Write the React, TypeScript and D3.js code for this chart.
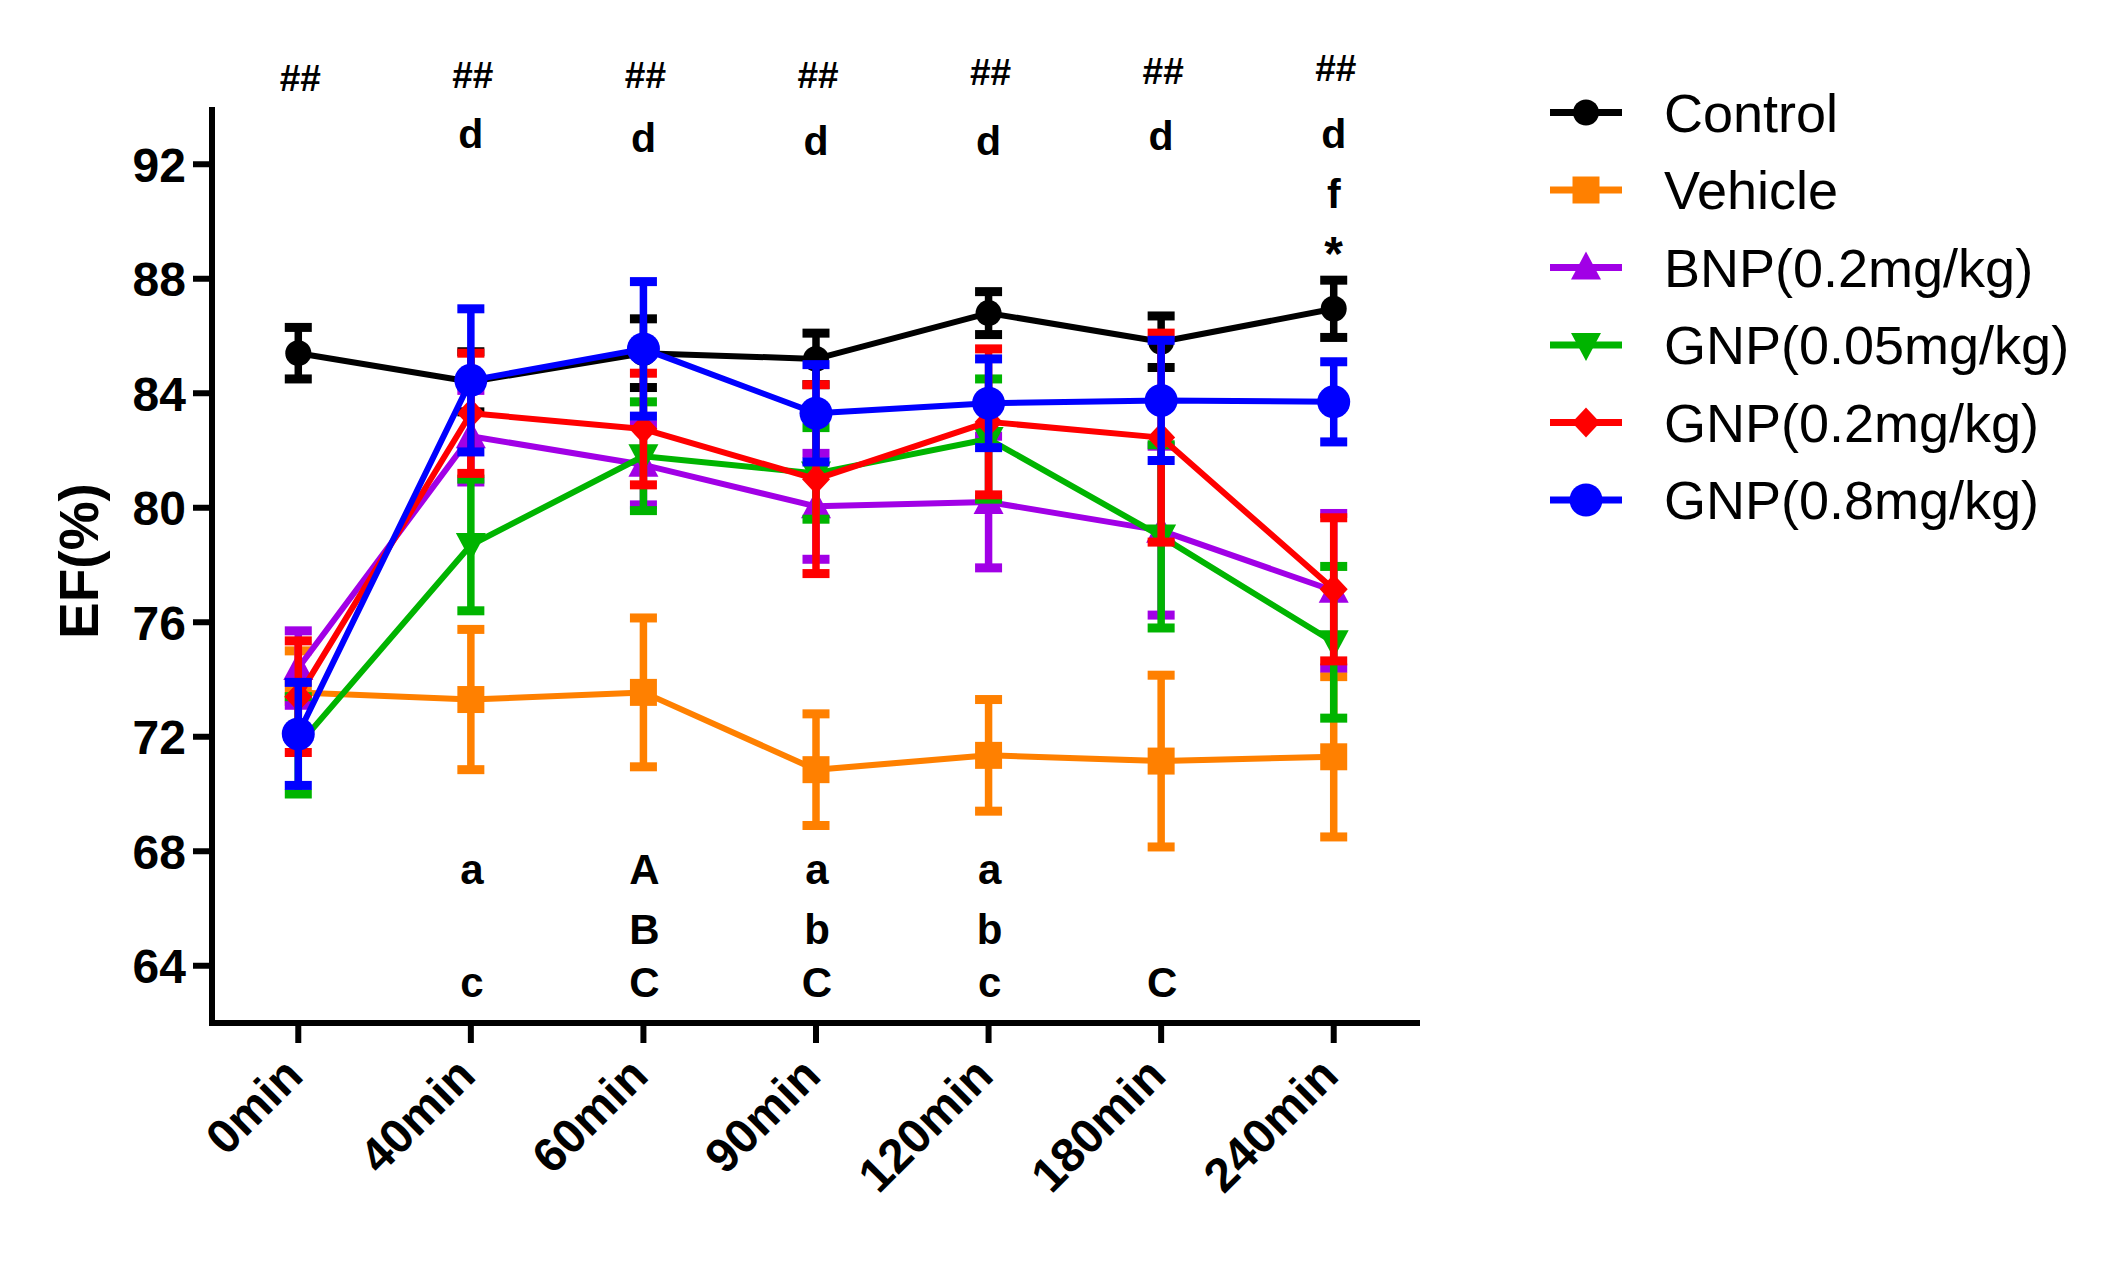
import React from "react";
import * as d3 from "d3";

const categories = ["0min", "40min", "60min", "90min", "120min", "180min", "240min"];
const yTicks = [64, 68, 72, 76, 80, 84, 88, 92];

const seriesNames = ["Control", "Vehicle", "BNP(0.2mg/kg)", "GNP(0.05mg/kg)", "GNP(0.2mg/kg)", "GNP(0.8mg/kg)"];

const controlMean = [85.4, 84.4, 85.4, 85.2, 86.8, 85.8, 86.95];
const controlErr = [0.9, 1.05, 1.2, 0.9, 0.75, 0.9, 1.0];
const vehicleMean = [73.55, 73.3, 73.55, 70.85, 71.35, 71.15, 71.3];
const vehicleErr = [1.45, 2.45, 2.6, 1.95, 1.95, 3.0, 2.8];
const bnpMean = [74.4, 82.5, 81.5, 80.05, 80.2, 79.2, 77.1];
const bnpErr = [1.3, 1.6, 1.4, 1.85, 2.3, 2.95, 2.7];
const gnp005Mean = [71.7, 78.7, 81.8, 81.2, 82.4, 79.0, 75.3];
const gnp005Err = [1.7, 2.3, 1.9, 1.6, 2.1, 3.2, 2.65];
const gnp02Mean = [73.4, 83.3, 82.75, 81.0, 83.0, 82.45, 77.15];
const gnp02Err = [1.95, 2.1, 1.95, 3.3, 2.55, 3.65, 2.5];
const gnp08Mean = [72.1, 84.45, 85.55, 83.3, 83.65, 83.75, 83.7];
const gnp08Err = [1.8, 2.5, 2.35, 1.7, 1.55, 2.1, 1.4];

// significance labels
const hashLabels = ["##", "##", "##", "##", "##", "##", "##"];
const upperLabels = [[], ["d"], ["d"], ["d"], ["d"], ["d"], ["d", "f", "*"]];
const lowerLabels = [
  ["", "", ""],
  ["a", "", "c"],
  ["A", "B", "C"],
  ["a", "b", "C"],
  ["a", "b", "c"],
  ["", "", "C"],
  ["", "", ""],
];

const colors = ["#000000", "#ff8000", "#a100e6", "#00b400", "#ff0000", "#0000ff"];
const shapes = ["circle", "square", "triUp", "triDown", "diamond", "bigCircle"];

const W = 2119;
const H = 1267;
const FONT = "'Liberation Sans', Arial, Helvetica, sans-serif";

const x = d3.scalePoint<string>().domain(categories).range([212, 1420]).padding(0.5);
const y = d3.scaleLinear().domain([62, 94]).range([1023, 107]);

function markerPath(shape: string): string {
  switch (shape) {
    case "square":
      return "M-13.5,-13.5H13.5V13.5H-13.5Z";
    case "triUp":
      return "M0,-16L15,12L-15,12Z";
    case "triDown":
      return "M0,16L15,-12L-15,-12Z";
    case "diamond":
      return "M0,-15L14,0L0,15L-14,0Z";
    case "bigCircle":
      return d3.arc()({ innerRadius: 0, outerRadius: 16.5, startAngle: 0, endAngle: 2 * Math.PI }) as string;
    default:
      return d3.arc()({ innerRadius: 0, outerRadius: 13, startAngle: 0, endAngle: 2 * Math.PI }) as string;
  }
}

const hashBaselines = [91, 88, 88, 88, 85, 84, 81];
const upperBaselines = [
  [],
  [148],
  [152],
  [155],
  [155],
  [150],
  [148, 208, 270],
];
const lowerBaselines = [884, 944, 997];

export default function App() {
  const means = [controlMean, vehicleMean, bnpMean, gnp005Mean, gnp02Mean, gnp08Mean];
  const errs = [controlErr, vehicleErr, bnpErr, gnp005Err, gnp02Err, gnp08Err];
  const line = d3
    .line<number>()
    .x((_, i) => x(categories[i]) as number)
    .y((d) => y(d));

  const capW = 27;
  const capH = 9;

  return (
    <svg
      width={W}
      height={H}
      style={{ position: "absolute", left: 0, top: 0, background: "#fff" }}
      fontFamily={FONT}
    >
      <rect x={0} y={0} width={W} height={H} fill="#fff" />
      {/* series */}
      {means.map((m, si) => (
        <g key={si}>
          <path d={line(m) as string} fill="none" stroke={colors[si]} strokeWidth={6} strokeLinejoin="round" />
          {m.map((v, i) => {
            const cx = x(categories[i]) as number;
            const e = errs[si][i];
            return (
              <g key={i}>
                <line x1={cx} x2={cx} y1={y(v + e)} y2={y(v - e)} stroke={colors[si]} strokeWidth={7.5} />
                <rect x={cx - capW / 2} y={y(v + e) - capH / 2} width={capW} height={capH} fill={colors[si]} />
                <rect x={cx - capW / 2} y={y(v - e) - capH / 2} width={capW} height={capH} fill={colors[si]} />
                <path d={markerPath(shapes[si])} transform={`translate(${cx},${y(v)})`} fill={colors[si]} />
              </g>
            );
          })}
        </g>
      ))}

      {/* axes */}
      <line x1={212} x2={212} y1={y(94)} y2={1026} stroke="#000" strokeWidth={6} />
      <line x1={209} x2={1420} y1={1023} y2={1023} stroke="#000" strokeWidth={6} />
      {yTicks.map((t) => (
        <g key={t}>
          <line x1={193} x2={212} y1={y(t)} y2={y(t)} stroke="#000" strokeWidth={6} />
          <text x={186} y={y(t)} dy="0.36em" textAnchor="end" fontSize={48} fontWeight="bold">
            {t}
          </text>
        </g>
      ))}
      {categories.map((c) => {
        const cx = x(c) as number;
        return (
          <g key={c}>
            <line x1={cx} x2={cx} y1={1023} y2={1043} stroke="#000" strokeWidth={6} />
            <text
              transform={`translate(${cx + 7},${1078}) rotate(-45)`}
              textAnchor="end"
              fontSize={48}
              fontWeight="bold"
            >
              {c}
            </text>
          </g>
        );
      })}
      <text
        transform={`translate(98,${561}) rotate(-90)`}
        textAnchor="middle"
        fontSize={55}
        fontWeight="bold"
      >
        EF(%)
      </text>

      {/* annotations */}
      {hashLabels.map((h, i) => (
        <text key={"h" + i} x={(x(categories[i]) as number) + 2} y={hashBaselines[i]} textAnchor="middle" fontSize={37} fontWeight="bold">
          {h}
        </text>
      ))}
      {upperLabels.map((labs, i) =>
        labs.map((l, j) => (
          <text
            key={"u" + i + j}
            x={x(categories[i]) as number}
            y={upperBaselines[i][j]}
            textAnchor="middle"
            fontSize={l === "*" ? 48 : 41}
            fontWeight="bold"
          >
            {l}
          </text>
        ))
      )}
      {lowerLabels.map((labs, i) =>
        labs.map((l, j) =>
          l ? (
            <text
              key={"l" + i + j}
              x={(x(categories[i]) as number) + 1}
              y={lowerBaselines[j]}
              textAnchor="middle"
              fontSize={42}
              fontWeight="bold"
            >
              {l}
            </text>
          ) : null
        )
      )}

      {/* legend */}
      {seriesNames.map((n, i) => {
        const ry = 112.5 + i * 77.5;
        return (
          <g key={n}>
            <line x1={1550} x2={1622} y1={ry} y2={ry} stroke={colors[i]} strokeWidth={7} />
            <path d={markerPath(shapes[i])} transform={`translate(1586,${ry})`} fill={colors[i]} />
            <text x={1664} y={ry + 19} fontSize={54}>
              {n}
            </text>
          </g>
        );
      })}
    </svg>
  );
}
